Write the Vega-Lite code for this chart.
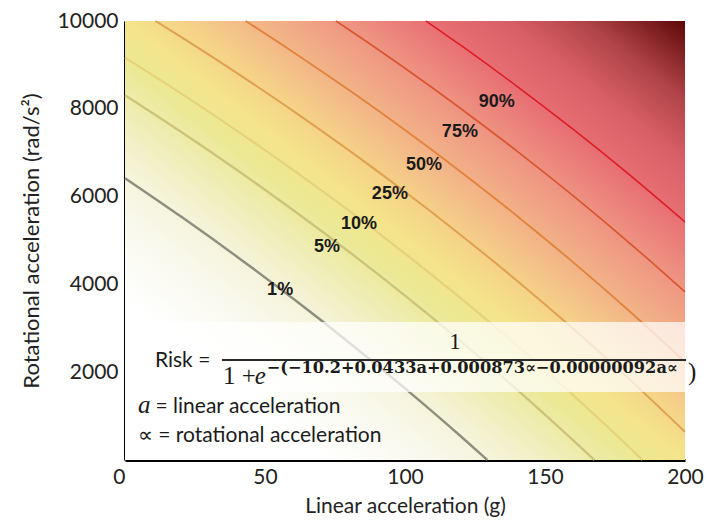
{
  "$schema": "https://vega.github.io/schema/vega-lite/v6.json",
  "width": 560,
  "height": 439,
  "autosize": "none",
  "padding": {"left": 125, "top": 21, "right": 22, "bottom": 60},
  "background": "white",
  "config": {"view": {"stroke": null}, "font": "Lato"},
  "datasets": {
    "bg": [{"a": 0, "a2": 200, "r": 0, "r2": 10000}],
    "band": [{"a": 0, "a2": 200.6, "r": 1549, "r2": 3144}],
    "bar": [{"a": 34.6, "a2": 200.4, "r": 2278}],
    "contours": [
      {"level": "1%", "a": 0, "r": 6420}, {"level": "1%", "a": 20, "r": 5545}, {"level": "1%", "a": 40, "r": 4632}, {"level": "1%", "a": 60, "r": 3677}, {"level": "1%", "a": 80, "r": 2678}, {"level": "1%", "a": 100, "r": 1632}, {"level": "1%", "a": 120, "r": 536}, {"level": "1%", "a": 129.4, "r": 0},
      {"level": "5%", "a": 0, "r": 8311}, {"level": "5%", "a": 20, "r": 7477}, {"level": "5%", "a": 40, "r": 6606}, {"level": "5%", "a": 60, "r": 5695}, {"level": "5%", "a": 80, "r": 4743}, {"level": "5%", "a": 100, "r": 3746}, {"level": "5%", "a": 120, "r": 2701}, {"level": "5%", "a": 140, "r": 1604}, {"level": "5%", "a": 160, "r": 451}, {"level": "5%", "a": 167.6, "r": 0},
      {"level": "10%", "a": 0, "r": 9167}, {"level": "10%", "a": 20, "r": 8351}, {"level": "10%", "a": 40, "r": 7499}, {"level": "10%", "a": 60, "r": 6609}, {"level": "10%", "a": 80, "r": 5678}, {"level": "10%", "a": 100, "r": 4703}, {"level": "10%", "a": 120, "r": 3681}, {"level": "10%", "a": 140, "r": 2608}, {"level": "10%", "a": 160, "r": 1481}, {"level": "10%", "a": 180, "r": 295}, {"level": "10%", "a": 184.8, "r": 0},
      {"level": "25%", "a": 10.9, "r": 10000}, {"level": "25%", "a": 20, "r": 9637}, {"level": "25%", "a": 40, "r": 8813}, {"level": "25%", "a": 60, "r": 7952}, {"level": "25%", "a": 80, "r": 7052}, {"level": "25%", "a": 100, "r": 6109}, {"level": "25%", "a": 120, "r": 5121}, {"level": "25%", "a": 140, "r": 4084}, {"level": "25%", "a": 160, "r": 2994}, {"level": "25%", "a": 180, "r": 1848}, {"level": "25%", "a": 200, "r": 641},
      {"level": "50%", "a": 43.1, "r": 10000}, {"level": "50%", "a": 60, "r": 9296}, {"level": "50%", "a": 80, "r": 8426}, {"level": "50%", "a": 100, "r": 7516}, {"level": "50%", "a": 120, "r": 6562}, {"level": "50%", "a": 140, "r": 5560}, {"level": "50%", "a": 160, "r": 4508}, {"level": "50%", "a": 180, "r": 3401}, {"level": "50%", "a": 200, "r": 2235},
      {"level": "75%", "a": 75.3, "r": 10000}, {"level": "75%", "a": 80, "r": 9801}, {"level": "75%", "a": 100, "r": 8923}, {"level": "75%", "a": 120, "r": 8002}, {"level": "75%", "a": 140, "r": 7037}, {"level": "75%", "a": 160, "r": 6022}, {"level": "75%", "a": 180, "r": 4954}, {"level": "75%", "a": 200, "r": 3830},
      {"level": "90%", "a": 107.5, "r": 10000}, {"level": "90%", "a": 120, "r": 9443}, {"level": "90%", "a": 140, "r": 8513}, {"level": "90%", "a": 160, "r": 7535}, {"level": "90%", "a": 180, "r": 6507}, {"level": "90%", "a": 200, "r": 5424}
    ],
    "labels": [
      {"t": "1%", "a": 55.4, "r": 3873},
      {"t": "5%", "a": 72.1, "r": 4852},
      {"t": "10%", "a": 83.6, "r": 5376},
      {"t": "25%", "a": 94.6, "r": 6059},
      {"t": "50%", "a": 106.8, "r": 6720},
      {"t": "75%", "a": 119.6, "r": 7472},
      {"t": "90%", "a": 132.8, "r": 8155}
    ],
    "notes": [
      {"id": "risk", "t": "Risk =", "a": 10.7, "r": 2119},
      {"id": "num", "t": "1", "a": 117.9, "r": 2529},
      {"id": "den", "t": "1 +", "a": 35.0, "r": 1731},
      {"id": "e", "t": "e", "a": 46.3, "r": 1731},
      {"id": "sup", "t": "−(−10.2+0.0433a+0.000873∝−0.00000092a∝", "a": 50.6, "r": 1982},
      {"id": "paren", "t": ")", "a": 201.1, "r": 1822},
      {"id": "avar", "t": "a", "a": 4.6, "r": 1071},
      {"id": "adef", "t": "= linear acceleration", "a": 10.9, "r": 1071},
      {"id": "rdef", "t": "∝ = rotational acceleration", "a": 4.6, "r": 410}
    ]
  },
  "encoding": {
    "x": {
      "field": "a", "type": "quantitative",
      "scale": {"domain": [0, 200], "nice": false, "zero": false},
      "axis": {
        "title": "Linear acceleration (g)",
        "values": [0, 50, 100, 150, 200],
        "grid": false, "ticks": false,
        "domainColor": "#000", "domainWidth": 3,
        "labelFont": "Lato", "labelFontSize": 21, "labelColor": "#222", "labelPadding": 6,
        "labelAlign": {"condition": {"test": "datum.value == 0", "value": "right"}, "value": "center"},
        "titleFont": "Lato", "titleFontSize": 21, "titleFontWeight": "normal", "titleColor": "#222", "titlePadding": 8
      }
    },
    "y": {
      "field": "r", "type": "quantitative",
      "scale": {"domain": [0, 10000], "nice": false, "zero": false},
      "axis": {
        "title": "Rotational acceleration (rad/s²)",
        "values": [0, 2000, 4000, 6000, 8000, 10000],
        "format": "d",
        "labelExpr": "datum.value == 0 ? '' : datum.label",
        "grid": false, "ticks": false,
        "domainColor": "#000", "domainWidth": 3,
        "labelFont": "Lato", "labelFontSize": 21, "labelColor": "#222", "labelPadding": 7,
        "titleFont": "Lato", "titleFontSize": 22, "titleFontWeight": "normal", "titleColor": "#222", "titlePadding": 14
      }
    }
  },
  "layer": [
    {
      "data": {"name": "bg"},
      "mark": {
        "type": "rect",
        "fill": {
          "gradient": "linear", "x1": 0, "y1": 1, "x2": 1, "y2": 0,
          "stops": [
            {"offset": 0, "color": "#ffffff"},
            {"offset": 0.18, "color": "#ffffff"},
            {"offset": 0.28, "color": "#f9f8ec"},
            {"offset": 0.34, "color": "#f5f3d6"},
            {"offset": 0.40, "color": "#efedb4"},
            {"offset": 0.45, "color": "#ebe996"},
            {"offset": 0.50, "color": "#f4e48a"},
            {"offset": 0.55, "color": "#f5d388"},
            {"offset": 0.61, "color": "#f3b888"},
            {"offset": 0.69, "color": "#ef9783"},
            {"offset": 0.77, "color": "#e87074"},
            {"offset": 0.84, "color": "#d85f66"},
            {"offset": 0.91, "color": "#b04448"},
            {"offset": 1, "color": "#5e0707"}
          ]
        }
      },
      "encoding": {"x2": {"field": "a2"}, "y2": {"field": "r2"}}
    },
    {
      "data": {"name": "contours"},
      "mark": {"type": "line", "interpolate": "monotone"},
      "encoding": {
        "detail": {"field": "level"},
        "color": {"field": "level", "type": "nominal", "legend": null,
          "scale": {"domain": ["1%", "5%", "10%", "25%", "50%", "75%", "90%"],
                    "range": ["#8f8f80", "#cdc47a", "#e6d27a", "#dfa052", "#e2823c", "#d9552e", "#de1a22"]}},
        "strokeWidth": {"field": "level", "type": "ordinal", "legend": null,
          "scale": {"domain": ["1%", "5%", "10%", "25%", "50%", "75%", "90%"],
                    "range": [2.5, 1.5, 1.2, 2, 2.2, 2.5, 3]}}
      }
    },
    {
      "data": {"name": "labels"},
      "mark": {"type": "text", "font": "Liberation Sans", "fontWeight": "bold", "fontSize": 18, "color": "#1a1a1a", "align": "center", "baseline": "middle"},
      "encoding": {"text": {"field": "t"}}
    },
    {
      "data": {"name": "band"},
      "mark": {"type": "rect", "color": "#ffffff", "opacity": 0.72},
      "encoding": {"x2": {"field": "a2"}, "y2": {"field": "r2"}}
    },
    {
      "data": {"name": "bar"},
      "mark": {"type": "rule", "color": "#2a2a2a", "strokeWidth": 2},
      "encoding": {"x2": {"field": "a2"}}
    },
    {
      "data": {"name": "notes"},
      "transform": [{"filter": "datum.id == 'risk' || datum.id == 'adef' || datum.id == 'rdef'"}],
      "mark": {"type": "text", "font": "Lato", "fontSize": 21, "color": "#1a1a1a", "align": "left", "baseline": "alphabetic"},
      "encoding": {"text": {"field": "t"}}
    },
    {
      "data": {"name": "notes"},
      "transform": [{"filter": "datum.id == 'avar' || datum.id == 'e'"}],
      "mark": {"type": "text", "font": "Liberation Serif", "fontStyle": "italic", "fontSize": 25, "color": "#1a1a1a", "align": "left", "baseline": "alphabetic"},
      "encoding": {"text": {"field": "t"}}
    },
    {
      "data": {"name": "notes"},
      "transform": [{"filter": "datum.id == 'num'"}],
      "mark": {"type": "text", "font": "Liberation Serif", "fontSize": 23, "color": "#1a1a1a", "align": "center", "baseline": "alphabetic"},
      "encoding": {"text": {"field": "t"}}
    },
    {
      "data": {"name": "notes"},
      "transform": [{"filter": "datum.id == 'den'"}],
      "mark": {"type": "text", "font": "Liberation Serif", "fontSize": 25, "color": "#1a1a1a", "align": "left", "baseline": "alphabetic"},
      "encoding": {"text": {"field": "t"}}
    },
    {
      "data": {"name": "notes"},
      "transform": [{"filter": "datum.id == 'sup'"}],
      "mark": {"type": "text", "font": "DejaVu Serif", "fontWeight": "bold", "fontSize": 16.2, "color": "#1a1a1a", "align": "left", "baseline": "alphabetic"},
      "encoding": {"text": {"field": "t"}}
    },
    {
      "data": {"name": "notes"},
      "transform": [{"filter": "datum.id == 'paren'"}],
      "mark": {"type": "text", "font": "Liberation Serif", "fontSize": 25, "color": "#1a1a1a", "align": "left", "baseline": "alphabetic"},
      "encoding": {"text": {"field": "t"}}
    }
  ]
}
